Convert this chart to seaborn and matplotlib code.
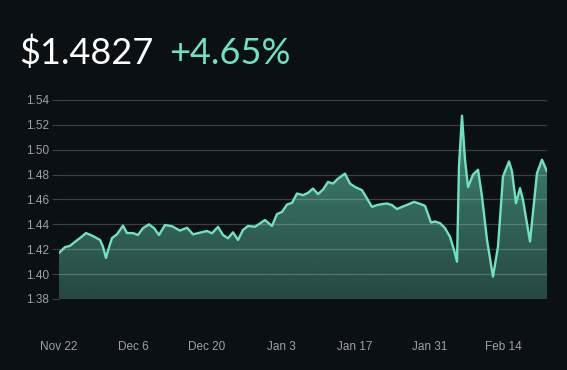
"""Price card: last price, change and a 3-month area chart."""
import matplotlib
matplotlib.use("Agg")
import matplotlib.dates as mdates
import matplotlib.pyplot as plt
import numpy as np
import pandas as pd
import seaborn as sns

START = pd.Timestamp("2023-11-22")

# day offsets from START and prices
DAY_OFFSETS = [
    0, 1.13, 2.08, 3.02, 3.97, 5.10, 6.24, 7.75, 8.32, 8.88, 9.26, 10.02,
    10.96, 12.10, 12.85, 13.99, 14.93, 15.88, 17.01, 17.96, 18.90, 20.04,
    21.36, 22.87, 24.20, 25.33, 26.65, 27.98, 28.92, 30.06, 31.00, 31.95,
    32.89, 33.84, 34.78, 35.73, 37.05, 38.00, 38.94, 40.26, 41.21, 42.16,
    43.10, 44.05, 44.99, 46.12, 47.07, 48.02, 48.96, 49.91, 50.85, 51.80,
    52.74, 54.06, 55.01, 55.95, 57.28, 58.22, 59.17, 60.11, 61.06, 62.00,
    62.95, 63.89, 64.84, 65.97, 67.11, 68.24, 69.19, 70.32, 71.08, 72.02,
    72.97, 73.91, 74.67, 75.24, 75.61, 76.18, 76.75, 77.32, 78.26, 79.21,
    79.96, 80.91, 82.04, 82.99, 83.93, 85.07, 85.63, 86.39, 87.15, 87.71,
    89.04, 90.36, 91.30, 92.25,
]
PRICES = [
    1.4170, 1.4217, 1.4227, 1.4260, 1.4290, 1.4330, 1.4310, 1.4275, 1.4220,
    1.4130, 1.4190, 1.4290, 1.4320, 1.4390, 1.4330, 1.4330, 1.4315, 1.4370,
    1.4400, 1.4370, 1.4315, 1.4395, 1.4385, 1.4350, 1.4373, 1.4320, 1.4333,
    1.4347, 1.4328, 1.4380, 1.4315, 1.4288, 1.4336, 1.4275, 1.4355, 1.4387,
    1.4381, 1.4408, 1.4435, 1.4387, 1.4483, 1.4500, 1.4560, 1.4573, 1.4648,
    1.4635, 1.4653, 1.4688, 1.4643, 1.4680, 1.4741, 1.4728, 1.4768, 1.4808,
    1.4728, 1.4701, 1.4675, 1.4608, 1.4541, 1.4555, 1.4563, 1.4568, 1.4555,
    1.4523, 1.4541, 1.4560, 1.4581, 1.4565, 1.4549, 1.4415, 1.4423, 1.4410,
    1.4370, 1.4300, 1.4195, 1.4100, 1.4866, 1.5274, 1.4919, 1.4700, 1.4800,
    1.4839, 1.4624, 1.4275, 1.3980, 1.4222, 1.4785, 1.4906, 1.4826, 1.4570,
    1.4691, 1.4597, 1.4262, 1.4812, 1.4920, 1.4826,
]
Y_TICKS = [1.38, 1.40, 1.42, 1.44, 1.46, 1.48, 1.50, 1.52, 1.54]
X_TICK_DATES = ["2023-11-22", "2023-12-06", "2023-12-20", "2024-01-03",
                "2024-01-17", "2024-01-31", "2024-02-14"]
X_TICK_LABELS = ["Nov 22", "Dec 6", "Dec 20", "Jan 3", "Jan 17", "Jan 31", "Feb 14"]
PRICE_TEXT = "$1.4827"
CHANGE_TEXT = "+4.65%"

BG = "#0a1014"
MINT = "#6fe2c0"
GRID = "#3b4144"
TICK = "#9ba1a4"

sns.set_theme(style="dark", rc={
    "figure.facecolor": BG, "axes.facecolor": BG,
    "axes.edgecolor": BG, "text.color": "white",
})
plt.rcParams["font.family"] = ["Liberation Sans", "DejaVu Sans"]

df = pd.DataFrame({
    "date": START + pd.to_timedelta(DAY_OFFSETS, unit="D"),
    "price": PRICES,
})

fig = plt.figure(figsize=(5.67, 3.70), dpi=100)
ax = fig.add_axes([59 / 567, 71 / 370, 488 / 567, 199 / 370])

ymin, ymax = Y_TICKS[0], Y_TICKS[-1]
xnum = mdates.date2num(df["date"])

# gradient fill under the curve
poly = ax.fill_between(df["date"], df["price"], ymin, color="none", lw=0)
grad = np.zeros((256, 1, 4))
grad[..., :3] = matplotlib.colors.to_rgb(MINT)
grad[..., 3] = np.linspace(0.6, 0.27, 256)[:, None]
img = ax.imshow(grad, aspect="auto", origin="upper",
                extent=[xnum[0], xnum[-1], ymin, ymax], zorder=1)
img.set_clip_path(poly.get_paths()[0], transform=ax.transData)

for y in Y_TICKS:
    ax.axhline(y, color="white", alpha=0.2, lw=0.9, zorder=2)

sns.lineplot(data=df, x="date", y="price", ax=ax, color=MINT, lw=1.7,
             zorder=3, solid_joinstyle="round")

ax.set_xlim(xnum[0], xnum[-1])
ax.set_ylim(ymin, ymax)
ax.set_yticks(Y_TICKS)
ax.set_yticklabels([f"{v:.2f}" for v in Y_TICKS])
ax.set_xticks(mdates.date2num(pd.to_datetime(X_TICK_DATES)))
ax.set_xticklabels(X_TICK_LABELS)
ax.set_xlabel("")
ax.set_ylabel("")
ax.grid(False)
ax.tick_params(axis="y", left=True, length=5, width=0.8, color=GRID,
               labelsize=8.5, labelcolor=TICK, pad=2)
ax.tick_params(axis="x", bottom=False, labelsize=8.5, labelcolor=TICK, pad=24)
for s in ax.spines.values():
    s.set_visible(False)

fig.text(19 / 567, 1 - 64 / 370, PRICE_TEXT, color="white", fontsize=26,
         family="Lato", ha="left", va="baseline")
fig.text(169 / 567, 1 - 64 / 370, CHANGE_TEXT, color=MINT, fontsize=26,
         family="Lato", ha="left", va="baseline")

fig.savefig("out.png", dpi=100, facecolor=BG)
